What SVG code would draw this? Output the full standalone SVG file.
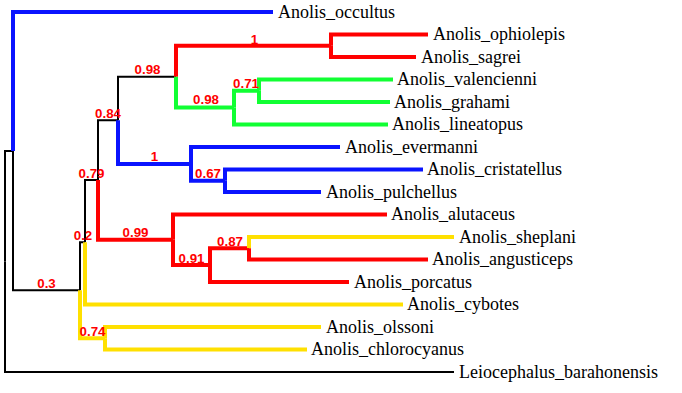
<svg xmlns="http://www.w3.org/2000/svg" width="682" height="393" viewBox="0 0 682 393">
<style>
.k{fill:none;stroke:#000;stroke-width:2;stroke-linejoin:miter}
.b{fill:none;stroke:#0a14ff;stroke-width:4;stroke-linejoin:miter}
.r{fill:none;stroke:#ff0000;stroke-width:4;stroke-linejoin:miter}
.g{fill:none;stroke:#11ff33;stroke-width:4;stroke-linejoin:miter}
.y{fill:none;stroke:#ffe000;stroke-width:4;stroke-linejoin:miter}
.t{font-family:"Liberation Serif","Times New Roman",serif;font-size:18px;fill:#000}
.s{font-family:"Liberation Sans",Arial,sans-serif;font-size:13.3px;font-weight:bold;fill:#ff0000;text-anchor:middle}
</style>
<rect width="682" height="393" fill="#fff"/>
<g id="connectors">
<path class="k" d="M5,261.5 V151.1 H13"/>
<path class="k" d="M5,261.5 V372 H454"/>
<path class="k" d="M13,151.1 V290.3 H80"/>
<path class="k" d="M80,290.3 V242.3 H85"/>
<path class="k" d="M85,242.3 V180 H98"/>
<path class="k" d="M98,180 V120.3 H118"/>
<path class="k" d="M118,120.3 V76.7 H176"/>
<path class="b" d="M13,151.1 V12 H273"/>
<path class="y" d="M80,290.3 V338.25 H105"/>
<path class="y" d="M85,242.3 V304.5 H403"/>
<path class="r" d="M98,180 V239.8 H173"/>
<path class="b" d="M118,120.3 V163.9 H191"/>
<path class="r" d="M176,76.7 V45.75 H331"/>
<path class="g" d="M176,76.7 V107.6 H234"/>
<path class="r" d="M331,45.75 V34.5 H428"/>
<path class="r" d="M331,45.75 V57 H416"/>
<path class="g" d="M234,107.6 V90.75 H259"/>
<path class="g" d="M234,107.6 V124.5 H388"/>
<path class="g" d="M259,90.75 V79.5 H393"/>
<path class="g" d="M259,90.75 V102 H390"/>
<path class="b" d="M191,163.9 V147 H340"/>
<path class="b" d="M191,163.9 V180.75 H225"/>
<path class="b" d="M225,180.75 V169.5 H423"/>
<path class="b" d="M225,180.75 V192 H321"/>
<path class="r" d="M173,239.8 V214.5 H387"/>
<path class="r" d="M173,239.8 V265.1 H210"/>
<path class="r" d="M210,265.1 V248.25 H249"/>
<path class="r" d="M210,265.1 V282 H349"/>
<path class="y" d="M249,248.25 V237 H454"/>
<path class="r" d="M249,248.25 V259.5 H428"/>
<path class="y" d="M105,338.25 V327 H321"/>
<path class="y" d="M105,338.25 V349.5 H307"/>
</g>
<g id="tip-occultus"><text class="t" x="278" y="17.5">Anolis_occultus</text></g>
<g id="tip-ophiolepis"><text class="t" x="433" y="40">Anolis_ophiolepis</text></g>
<g id="tip-sagrei"><text class="t" x="421" y="62.5">Anolis_sagrei</text></g>
<g id="tip-valencienni"><text class="t" x="397" y="85">Anolis_valencienni</text></g>
<g id="tip-grahami"><text class="t" x="394" y="107.5">Anolis_grahami</text></g>
<g id="tip-lineatopus"><text class="t" x="392" y="130">Anolis_lineatopus</text></g>
<g id="tip-evermanni"><text class="t" x="345" y="152.5">Anolis_evermanni</text></g>
<g id="tip-cristatellus"><text class="t" x="427" y="175">Anolis_cristatellus</text></g>
<g id="tip-pulchellus"><text class="t" x="326" y="197.5">Anolis_pulchellus</text></g>
<g id="tip-alutaceus"><text class="t" x="391" y="220">Anolis_alutaceus</text></g>
<g id="tip-sheplani"><text class="t" x="459" y="242.5">Anolis_sheplani</text></g>
<g id="tip-angusticeps"><text class="t" x="432" y="265">Anolis_angusticeps</text></g>
<g id="tip-porcatus"><text class="t" x="354" y="287.5">Anolis_porcatus</text></g>
<g id="tip-cybotes"><text class="t" x="407" y="310">Anolis_cybotes</text></g>
<g id="tip-olssoni"><text class="t" x="326" y="332.5">Anolis_olssoni</text></g>
<g id="tip-chlorocyanus"><text class="t" x="311" y="355">Anolis_chlorocyanus</text></g>
<g id="tip-leiocephalus"><text class="t" x="459" y="377.5">Leiocephalus_barahonensis</text></g>
<g id="node-0.3"><text class="s" x="46.5" y="287.5">0.3</text></g>
<g id="node-0.2"><text class="s" x="83" y="239.5">0.2</text></g>
<g id="node-0.74"><text class="s" x="92.5" y="335.5">0.74</text></g>
<g id="node-0.79"><text class="s" x="91.5" y="177.5">0.79</text></g>
<g id="node-0.99"><text class="s" x="135.5" y="237">0.99</text></g>
<g id="node-0.84"><text class="s" x="108" y="118">0.84</text></g>
<g id="node-0.98a"><text class="s" x="147.5" y="74">0.98</text></g>
<g id="node-1b"><text class="s" x="154.5" y="161">1</text></g>
<g id="node-1r"><text class="s" x="254.5" y="43.5">1</text></g>
<g id="node-0.98g"><text class="s" x="206" y="104">0.98</text></g>
<g id="node-0.71"><text class="s" x="246" y="88">0.71</text></g>
<g id="node-0.67"><text class="s" x="208" y="178">0.67</text></g>
<g id="node-0.91"><text class="s" x="191.5" y="262.5">0.91</text></g>
<g id="node-0.87"><text class="s" x="230" y="245.5">0.87</text></g>
</svg>
